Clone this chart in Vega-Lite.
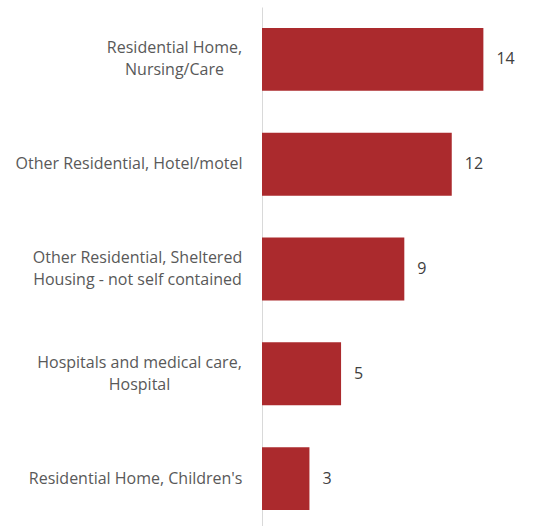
{
  "$schema": "https://vega.github.io/schema/vega-lite/v6.json",
  "width": 253,
  "height": 524,
  "autosize": {"type": "none"},
  "padding": {"left": 262, "top": 7, "right": 18, "bottom": 0},
  "background": "white",
  "config": {"view": {"stroke": null}, "font": "Open Sans"},
  "data": {
    "values": [
      {"category": "Residential Home, Nursing/Care", "count": 14},
      {"category": "Other Residential, Hotel/motel", "count": 12},
      {"category": "Other Residential, Sheltered Housing - not self contained", "count": 9},
      {"category": "Hospitals and medical care, Hospital", "count": 5},
      {"category": "Residential Home, Children's", "count": 3}
    ]
  },
  "encoding": {
    "y": {
      "field": "category",
      "type": "nominal",
      "sort": null,
      "scale": {"paddingInner": 0.4, "paddingOuter": 0.2},
      "axis": {
        "title": null,
        "ticks": false,
        "domainColor": "#D9D9D9",
        "domainWidth": 1,
        "labelColor": "#595959",
        "labelFont": "Open Sans",
        "labelFontSize": 16,
        "labelAlign": {
          "condition": {"test": "datum.value == 'Residential Home, Nursing/Care' || datum.value == 'Other Residential, Sheltered Housing - not self contained' || datum.value == 'Hospitals and medical care, Hospital'", "value": "center"},
          "value": "right"
        },
        "labelOffset": {
          "condition": {"test": "datum.value == 'Residential Home, Nursing/Care' || datum.value == 'Other Residential, Sheltered Housing - not self contained' || datum.value == 'Hospitals and medical care, Hospital'", "value": -11},
          "value": 0
        },
        "labelPadding": {
          "condition": [
            {"test": "datum.value == 'Residential Home, Nursing/Care'", "value": 88},
            {"test": "datum.value == 'Other Residential, Sheltered Housing - not self contained'", "value": 125},
            {"test": "datum.value == 'Hospitals and medical care, Hospital'", "value": 123}
          ],
          "value": 20
        },
        "labelLineHeight": 22,
        "labelLimit": 0,
        "labelExpr": "datum.value == 'Residential Home, Nursing/Care' ? ['Residential Home,', 'Nursing/Care'] : datum.value == 'Other Residential, Sheltered Housing - not self contained' ? ['Other Residential, Sheltered', 'Housing - not self contained'] : datum.value == 'Hospitals and medical care, Hospital' ? ['Hospitals and medical care,', 'Hospital'] : datum.value"
      }
    },
    "x": {
      "field": "count",
      "type": "quantitative",
      "scale": {"domain": [0, 16]},
      "axis": null
    }
  },
  "layer": [
    {"mark": {"type": "bar", "color": "#AB2A2D"}},
    {
      "mark": {"type": "text", "align": "left", "dx": 13, "fontSize": 16, "color": "#404040", "font": "Open Sans"},
      "encoding": {"text": {"field": "count", "type": "quantitative"}}
    }
  ]
}
